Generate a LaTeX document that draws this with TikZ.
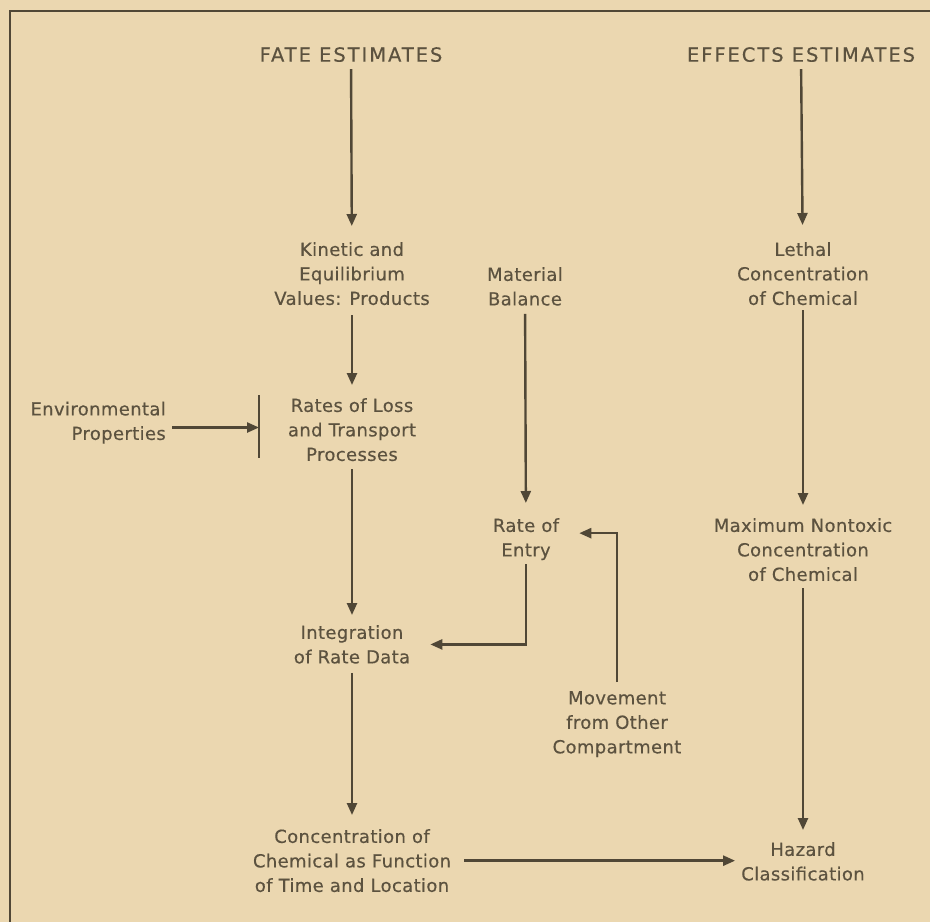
\documentclass[tikz,border=0pt]{standalone}
\usepackage{fontspec}
\setmainfont{DejaVu Sans}
\newfontfamily\lblfont[LetterSpace=2,FakeBold=0.4]{DejaVu Sans}
\newfontfamily\headfont[LetterSpace=10,FakeBold=0.4]{DejaVu Sans}
\usetikzlibrary{arrows.meta,calc}
\definecolor{paper}{RGB}{235,215,176}
\definecolor{ink}{RGB}{92,82,63}
\definecolor{rule}{RGB}{80,71,54}
\tikzset{
  lbl/.style={align=center, inner sep=0pt, anchor=north, text=ink,
    font=\lblfont\fontsize{18}{24.5}\selectfont},
  head/.style={inner sep=0pt, anchor=north, text=ink,
    font=\headfont\fontsize{19.5}{24}\selectfont},
  flow/.style={draw=rule, line width=2.4pt, -{Triangle[length=12pt,width=10pt]}},
  plain/.style={draw=rule, line width=2.2pt},
  frame/.style={draw=rule, line width=2pt},
}
\begin{document}
\begin{tikzpicture}[x=1pt,y=-1pt]
  \useasboundingbox (0,0) rectangle (930,922);
  \fill[paper] (0,0) rectangle (930,922);
  % open frame: top and left rules
  \draw[frame] (930,11) -- (10,11) -- (10,922);

  % column headings
  \node[head] (fate) at (351,47) {FATE ESTIMATES};
  \node[head] (effects) at (801,47) {EFFECTS ESTIMATES};

  % fate column
  \node[lbl] (kin) at (352,242) {Kinetic and\\Equilibrium\\Values: Products};
  \node[lbl] (rates) at (352,398) {Rates of Loss\\and Transport\\Processes};
  \node[lbl] (integ) at (352,625) {Integration\\of Rate Data};
  \node[lbl] (conc) at (352,829) {Concentration of\\Chemical as Function\\of Time and Location};
  \node[lbl, align=right, anchor=north east] (env) at (166,401.5) {Environmental\\Properties};

  % material balance column
  \node[lbl] (mat) at (525,267) {Material\\Balance};
  \node[lbl] (entry) at (526,518) {Rate of\\Entry};
  \node[lbl] (move) at (617,691) {Movement\\from Other\\Compartment};

  % effects column
  \node[lbl] (leth) at (803,242) {Lethal\\Concentration\\of Chemical};
  \node[lbl] (maxn) at (803,518) {Maximum Nontoxic\\Concentration\\of Chemical};
  \node[lbl] (haz) at (803,842) {Hazard\\Classification};

  % bar that collects the environmental input
  \coordinate (barT) at (259,395);
  \coordinate (barB) at (259,458);
  \coordinate (barM) at (259,427.5);
  \draw[plain] (barT) -- (barB);

  % connectors
  \draw[flow, shorten <=7pt, shorten >=16pt] (fate) -- (kin);
  \draw[flow, shorten <=7pt, shorten >=17pt] (effects) -- (leth);
  \draw[flow, shorten <=10pt, shorten >=13pt] (kin) -- (rates);
  \draw[flow, shorten <=8pt, shorten >=15pt] (mat) -- (entry);
  \draw[flow, shorten <=5pt, shorten >=13pt] (leth) -- (maxn);
  \draw[flow, shorten <=8pt, shorten >=10pt] (rates) -- (integ);
  \draw[flow, shorten <=9pt, shorten >=14pt] (integ) -- (conc);
  \draw[flow, shorten <=7pt, shorten >=12pt] (maxn) -- (haz);
  \draw[flow, shorten <=6pt] (env.east |- barM) -- (barM);
  \draw[flow, shorten <=4pt, shorten >=20pt] (entry.south) |- (integ.east);
  \draw[flow, shorten <=9pt, shorten >=20pt] (move.north) |- ([yshift=6pt]entry.east);
  \draw[flow, shorten <=13pt, shorten >=6pt] (conc.east) -- (conc.east -| haz.west);
\end{tikzpicture}
\end{document}
